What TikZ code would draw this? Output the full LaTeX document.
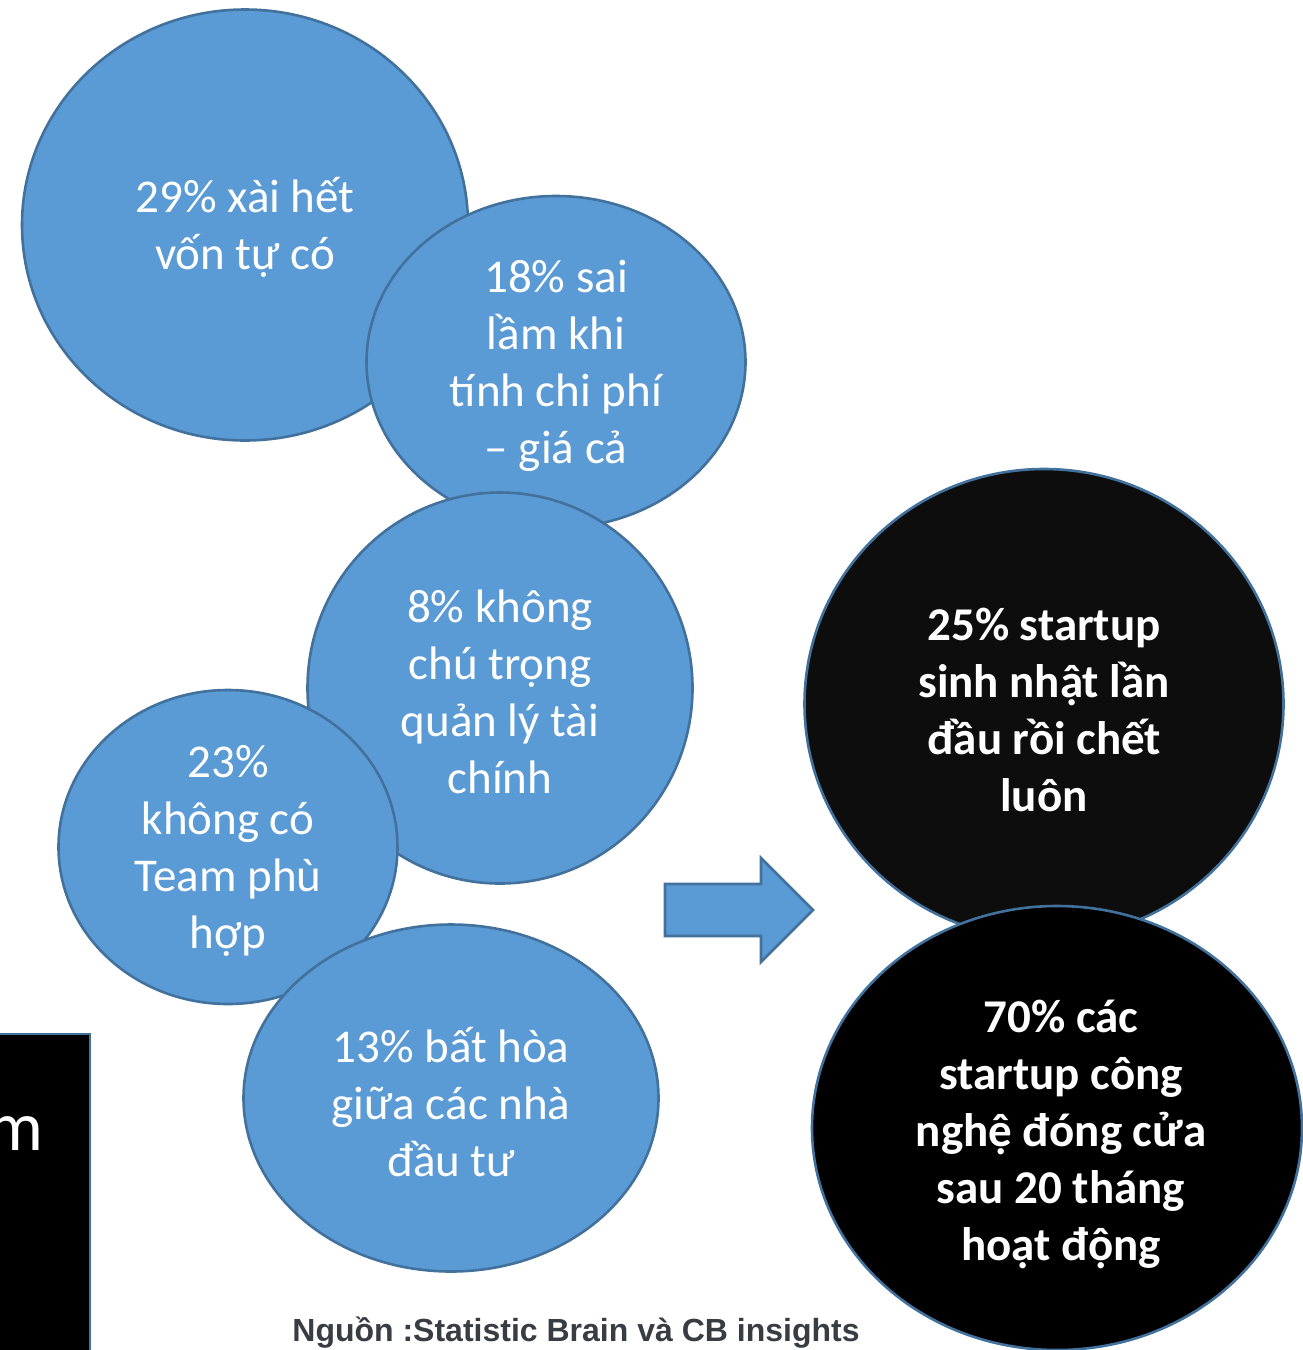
\documentclass[tikz,border=0pt]{standalone}
\usepackage{fontspec}
\setmainfont{Carlito}
\newfontfamily\srcfont{Liberation Sans}
\usepackage{xcolor}
\usepackage{tikz}
\usetikzlibrary{shapes.geometric}
\definecolor{bubblefill}{HTML}{5B9BD5}
\definecolor{bubbleedge}{HTML}{41719C}
\definecolor{srcgray}{HTML}{383C43}
\tikzstyle{bubble}=[ellipse,draw=bubbleedge,line width=2.6pt,fill=bubblefill,inner sep=0pt]
\tikzstyle{dark}=[ellipse,draw=bubbleedge,line width=2.6pt,inner sep=0pt]
\tikzstyle{txt}=[text=white,align=center,inner sep=0pt,font=\fontsize{47}{57}\selectfont]

\begin{document}
\begin{tikzpicture}[x=1pt,y=-1pt]
	\useasboundingbox (0,0) rectangle (1302,1350);
	% causes
	\node [bubble,minimum width=446,minimum height=431] (c29) at (245,225) {};
	\node [txt] (t29) at (245,227) {29\% xài hết\\vốn tự có};
	\node [bubble,minimum width=379,minimum height=332] (c18) at (556,362) {};
	\node [txt] (t18) at (556,366) {18\% sai\\lầm khi\\tính chi phí\\– giá cả};
	\node [bubble,minimum width=385,minimum height=391] (c8) at (500,688) {};
	\node [txt] (t8) at (500,692) {8\% không\\chú trọng\\quản lý tài\\chính};
	\node [bubble,minimum width=339,minimum height=314] (c23) at (228,847) {};
	\node [txt] (t23) at (228,851) {23\%\\không có\\Team phù\\hợp};
	\node [bubble,minimum width=415,minimum height=347] (c13) at (451,1098) {};
	\node [txt] (t13) at (451,1102) {13\% bất hòa\\giữa các nhà\\đầu tư};
	% arrow
	\draw [draw=bubbleedge,line width=2.6pt,fill=bubblefill,line join=miter]
		(665,884) -- (761,884) -- (761,858) -- (813,910) -- (761,962) -- (761,936) -- (665,936) -- cycle;
	% results
	\node [dark,fill=black!95,minimum width=479,minimum height=470] (c25) at (1044,704) {};
	\node [txt,font=\fontsize{47}{57}\selectfont\bfseries] (t25) at (1044,710) {25\% startup\\sinh nhật lần\\đầu rồi chết\\luôn};
	\node [dark,fill=black,minimum width=490,minimum height=444] (c70) at (1057,1128) {};
	\node [txt,font=\fontsize{47}{57}\selectfont\bfseries] (t70) at (1061,1134) {70\% các\\startup công\\nghệ đóng cửa\\sau 20 tháng\\hoạt động};
	% cut box on the left
	\draw [draw=bubbleedge,line width=2.6pt,fill=black] (-10,1034) rectangle (90,1370);
	\node [text=white,inner sep=0pt,anchor=base east,font=\fontsize{70}{84}\selectfont] (boxm) at (44,1150) {m};
	% source
	\node [text=srcgray,inner sep=0pt,font=\srcfont\bfseries\fontsize{32}{38}\selectfont] (src) at (576,1333) {Nguồn :Statistic Brain và CB insights};
\end{tikzpicture}
\end{document}
